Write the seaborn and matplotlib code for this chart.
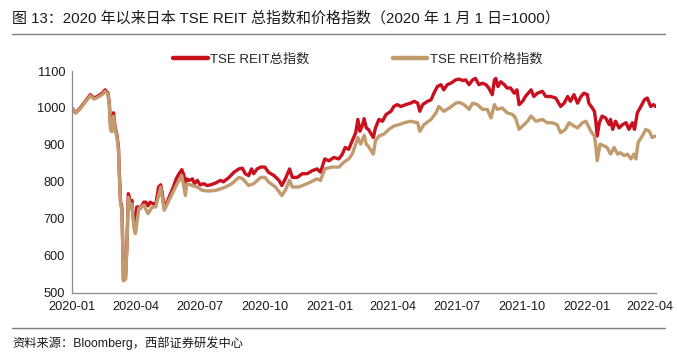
import matplotlib
matplotlib.use("Agg")
import matplotlib.pyplot as plt
import matplotlib.dates as mdates
from matplotlib.lines import Line2D
import seaborn as sns
import pandas as pd

# ---- data (day offsets from 2020-01-01, index values) ----
start_date = "2020-01-01"
total_days = [0, 5, 10, 17, 24, 26, 31, 36, 43, 47, 51, 53, 55, 57, 59, 61, 64, 66, 67, 69,
              71, 72, 73, 76, 78, 80, 81, 83, 85, 88, 90, 92, 95, 97, 102, 105, 108, 111, 116, 119,
              123, 126, 128, 131, 135, 140, 144, 148, 152, 156, 159, 161, 163, 167, 171, 174, 178, 182, 187, 192,
              197, 204, 211, 215, 223, 230, 237, 242, 246, 251, 255, 258, 263, 268, 274, 279, 287, 294, 298, 303,
              309, 313, 320, 327, 334, 341, 348, 353, 359, 365, 372, 379, 384, 388, 393, 398, 403, 406, 409, 412,
              415, 418, 421, 428, 431, 436, 441, 446, 453, 457, 462, 467, 474, 481, 486, 491, 494, 498, 505, 510,
              514, 519, 524, 528, 533, 538, 545, 550, 555, 559, 564, 569, 573, 578, 583, 588, 592, 597, 600, 602,
              605, 609, 614, 618, 623, 628, 632, 635, 640, 644, 652, 656, 661, 668, 673, 680, 687, 694, 699, 704,
              708, 713, 718, 723, 727, 732, 734, 739, 742, 744, 746, 749, 753, 758, 763, 765, 768, 772, 777, 782,
              787, 791, 796, 799, 803, 808, 813, 817, 822, 826, 829]
total_vals = [1000, 987, 996, 1013, 1031, 1036, 1027, 1031, 1040, 1049, 1040, 1013, 942, 940, 987, 951, 924, 893, 835, 745,
              728, 638, 536, 540, 629, 768, 763, 737, 750, 683, 665, 732, 732, 728, 745, 745, 735, 745, 740, 738,
              786, 792, 772, 728, 745, 768, 786, 808, 822, 833, 817, 786, 808, 804, 808, 795, 804, 792, 795, 790,
              792, 797, 804, 800, 812, 826, 835, 837, 822, 817, 835, 822, 835, 840, 840, 826, 817, 804, 790, 808,
              835, 812, 812, 822, 822, 830, 835, 826, 862, 857, 866, 862, 875, 893, 888, 911, 933, 969, 937, 951,
              971, 946, 942, 920, 946, 969, 964, 982, 991, 1004, 1009, 1004, 1009, 1013, 1018, 1013, 991, 1009, 1018, 1022,
              1040, 1058, 1063, 1049, 1063, 1067, 1076, 1078, 1074, 1076, 1063, 1076, 1080, 1063, 1067, 1063, 1054, 1036, 1076, 1080,
              1058, 1071, 1063, 1054, 1054, 1040, 1049, 1009, 1018, 1031, 1049, 1031, 1040, 1045, 1031, 1031, 1027, 1004, 1013, 1031,
              1018, 1036, 1013, 1031, 1040, 1036, 1013, 1000, 991, 964, 924, 960, 978, 973, 955, 969, 942, 964, 946, 955,
              960, 942, 960, 942, 987, 1004, 1022, 1027, 1004, 1009, 1004]

price_days = [0, 5, 10, 17, 24, 26, 31, 36, 43, 47, 51, 53, 55, 57, 59, 61, 64, 66, 67, 69,
              71, 72, 73, 76, 78, 80, 81, 83, 85, 88, 90, 95, 102, 108, 114, 119, 126, 131, 140, 148,
              156, 161, 163, 171, 178, 185, 194, 204, 211, 218, 227, 237, 242, 251, 258, 268, 274, 279, 289, 298,
              303, 309, 313, 322, 334, 348, 353, 359, 369, 379, 386, 393, 398, 403, 406, 410, 415, 418, 421, 428,
              431, 436, 443, 450, 457, 465, 472, 481, 491, 494, 500, 510, 517, 521, 528, 536, 545, 550, 557, 564,
              569, 576, 583, 590, 595, 600, 604, 611, 618, 626, 630, 635, 640, 647, 652, 659, 668, 675, 682, 689,
              694, 701, 706, 713, 718, 725, 730, 737, 742, 744, 746, 750, 756, 760, 765, 770, 775, 779, 784, 789,
              794, 798, 801, 804, 810, 815, 820, 824, 829]
price_vals = [1000, 986, 994, 1011, 1028, 1033, 1024, 1028, 1036, 1045, 1036, 1008, 938, 936, 978, 946, 918, 888, 830, 740,
              722, 632, 532, 536, 622, 758, 752, 728, 740, 675, 660, 728, 737, 714, 732, 732, 786, 723, 759, 790,
              817, 763, 795, 790, 786, 777, 775, 777, 781, 786, 795, 812, 809, 790, 795, 812, 812, 800, 786, 763,
              777, 804, 786, 786, 795, 808, 804, 835, 840, 840, 853, 862, 875, 902, 920, 902, 926, 902, 896, 875,
              911, 924, 929, 942, 951, 955, 960, 964, 960, 937, 955, 969, 987, 1004, 991, 1000, 1013, 1015, 1009, 996,
              1013, 1009, 996, 996, 973, 1009, 996, 1000, 987, 982, 973, 942, 951, 964, 978, 964, 969, 960, 960, 955,
              933, 942, 960, 951, 946, 960, 964, 937, 924, 897, 857, 902, 897, 893, 875, 893, 875, 879, 871, 875,
              862, 875, 862, 906, 924, 942, 937, 920, 924]

series_names = ["TSE REIT总指数", "TSE REIT价格指数"]
series_colors = ["#C8101E", "#C19A6E"]
y_ticks = [500, 600, 700, 800, 900, 1000, 1100]
x_tick_dates = ["2020-01-01", "2020-04-01", "2020-07-01", "2020-10-01", "2021-01-01",
                "2021-04-01", "2021-07-01", "2021-10-01", "2022-01-01", "2022-04-01"]

title_text = "图 13：2020 年以来日本 TSE REIT 总指数和价格指数（2020 年 1 月 1 日=1000）"
source_text = "资料来源：Bloomberg，西部证券研发中心"

# ---- frames ----
t0 = pd.Timestamp(start_date)
df_total = pd.DataFrame({"date": t0 + pd.to_timedelta(total_days, unit="D"), "value": total_vals})
df_price = pd.DataFrame({"date": t0 + pd.to_timedelta(price_days, unit="D"), "value": price_vals})

sns.set_theme(style="white")
plt.rcParams["font.family"] = ["Liberation Sans", "Noto Sans CJK SC", "DejaVu Sans"]
plt.rcParams["axes.unicode_minus"] = False

W, H = 677, 352
fig = plt.figure(figsize=(W / 100, H / 100), dpi=100)
ax = fig.add_axes([72 / W, 1 - 292.7 / H, (656 - 72) / W, (292.7 - 71) / H])

sns.lineplot(data=df_total, x="date", y="value", ax=ax, color=series_colors[0],
             linewidth=2.4, estimator=None, label=series_names[0], legend=False)
sns.lineplot(data=df_price, x="date", y="value", ax=ax, color=series_colors[1],
             linewidth=2.4, estimator=None, label=series_names[1], legend=False)

ax.set_xlim(t0, t0 + pd.Timedelta(days=829.5))
ax.set_ylim(500, 1100)
ax.set_yticks(y_ticks)
ax.set_xticks(pd.to_datetime(x_tick_dates))
ax.xaxis.set_major_formatter(mdates.DateFormatter("%Y-%m"))
ax.set_xlabel("")
ax.set_ylabel("")

for s in ["top", "right"]:
    ax.spines[s].set_visible(False)
for s in ["left", "bottom"]:
    ax.spines[s].set_color("#8c8c8c")
    ax.spines[s].set_linewidth(0.9)
ax.tick_params(axis="both", direction="in", length=3.5, width=0.8, color="#8c8c8c",
               labelsize=9.2, labelcolor="#1a1a1a", pad=6)
ax.tick_params(axis="y", pad=5)

# legend above axes
handles = [Line2D([0], [0], color=c, lw=3.2) for c in series_colors]
fig.legend(handles, series_names, loc="center", bbox_to_anchor=(358 / W, 1 - 59 / H),
           ncol=2, frameon=False, fontsize=9.5, handlelength=2.6, handletextpad=0.2,
           columnspacing=6.3, borderaxespad=0)

# title, rules, source
fig.text(12 / W, 1 - 18 / H, title_text, fontsize=10.8, va="center", ha="left", color="#1a1a1a")
fig.add_artist(Line2D([12 / W, 665 / W], [1 - 34 / H, 1 - 34 / H], color="#7f7f7f", lw=1.0))
fig.add_artist(Line2D([12 / W, 665 / W], [1 - 328 / H, 1 - 328 / H], color="#7f7f7f", lw=1.0))
fig.text(12 / W, 1 - 343 / H, source_text, fontsize=8.8, va="center", ha="left", color="#1a1a1a")

fig.savefig("out.png", dpi=100)
